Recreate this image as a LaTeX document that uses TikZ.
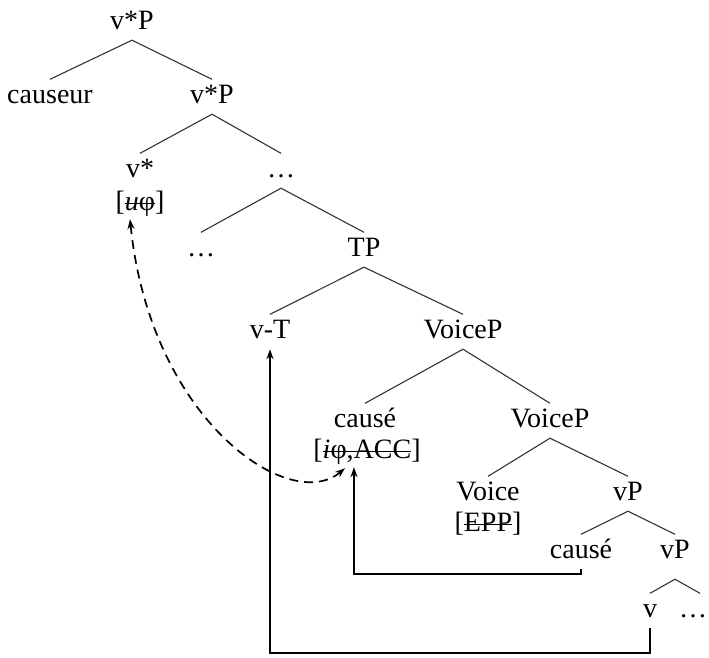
\documentclass[tikz,border=0pt]{standalone}
\usepackage{fontspec}
\setmainfont{Liberation Serif}
\usetikzlibrary{arrows.meta}
\newcommand\mystrk[1]{\begingroup\setbox0=\hbox{#1}\rlap{\rule[0.22em]{\wd0}{1.1pt}}\box0\endgroup}
\begin{document}
\begin{tikzpicture}[x=1pt,y=-1pt,
  every node/.style={font=\fontsize{28}{31}\selectfont},
  lab/.style={anchor=base,text height=18.5pt,text depth=6pt,inner xsep=1pt,inner ysep=5pt},
  feat/.style={anchor=base,inner sep=3pt},
  edge/.style={line width=1.1pt,draw=black!80},
  mv/.style={line width=1.7pt,-{Stealth[length=10pt,width=7pt]}},
  dsh/.style={line width=1.7pt,dash pattern=on 9pt off 6pt,{Stealth[length=10pt,width=7pt]}-{Stealth[length=10pt,width=7pt]}}]
\useasboundingbox (0,0) rectangle (709,657);
\node[lab] (r) at (132,29) {v*P};
\node[lab] (causeur) at (50,103) {causeur};
\node[lab] (vsP) at (212,103) {v*P};
\node[lab] (vs) at (140,177) {v*};
\node[feat] (uphi) at (140,210) {[\mystrk{\textit{u}φ}]};
\node[lab] (d1) at (281,177) {…};
\node[lab] (d2) at (201,256) {…};
\node[lab] (TP) at (364,256) {TP};
\node[lab] (vT) at (270,338) {v-T};
\node[lab] (VP1) at (463,338) {VoiceP};
\node[lab] (cU) at (365,427) {causé};
\node[feat] (acc) at (367,458) {[\mystrk{\textit{i}φ,ACC}]};
\node[lab] (VP2) at (550,427) {VoiceP};
\node[lab] (Voice) at (488,500) {Voice};
\node[feat] (epp) at (488,531) {[\mystrk{EPP}]};
\node[lab] (vP1) at (628,500) {vP};
\node[lab] (cL) at (581,558) {causé};
\node[lab] (vP2) at (675,558) {vP};
\node[lab] (v) at (650,617) {v};
\node[lab] (d3) at (693,617) {…};
\draw[edge] (r.south) -- (causeur.north);
\draw[edge] (r.south) -- (vsP.north);
\draw[edge] (vsP.south) -- (vs.north);
\draw[edge] (vsP.south) -- (d1.north);
\draw[edge] (d1.south) -- (d2.north);
\draw[edge] (d1.south) -- (TP.north);
\draw[edge] (TP.south) -- (vT.north);
\draw[edge] (TP.south) -- (VP1.north);
\draw[edge] (VP1.south) -- (cU.north);
\draw[edge] (VP1.south) -- (VP2.north);
\draw[edge] (VP2.south) -- (Voice.north);
\draw[edge] (VP2.south) -- (vP1.north);
\draw[edge] (vP1.south) -- (cL.north);
\draw[edge] (vP1.south) -- (vP2.north);
\draw[edge] ([yshift=-10pt]vP2.south) -- (v.north);
\draw[edge] ([yshift=-10pt]vP2.south) -- ([xshift=7pt]d3.north);
\draw[mv] (v.south) -- ++(0,25) -| (vT.south);
\draw[mv] (cL.south) -- ++(0,5) -| ([xshift=-13pt]acc.south);
\draw[dsh] ([xshift=-10pt]uphi.south) .. controls (150,420) and (290,515) .. ([xshift=-22pt,yshift=-1pt]acc.south);
\end{tikzpicture}
\end{document}
